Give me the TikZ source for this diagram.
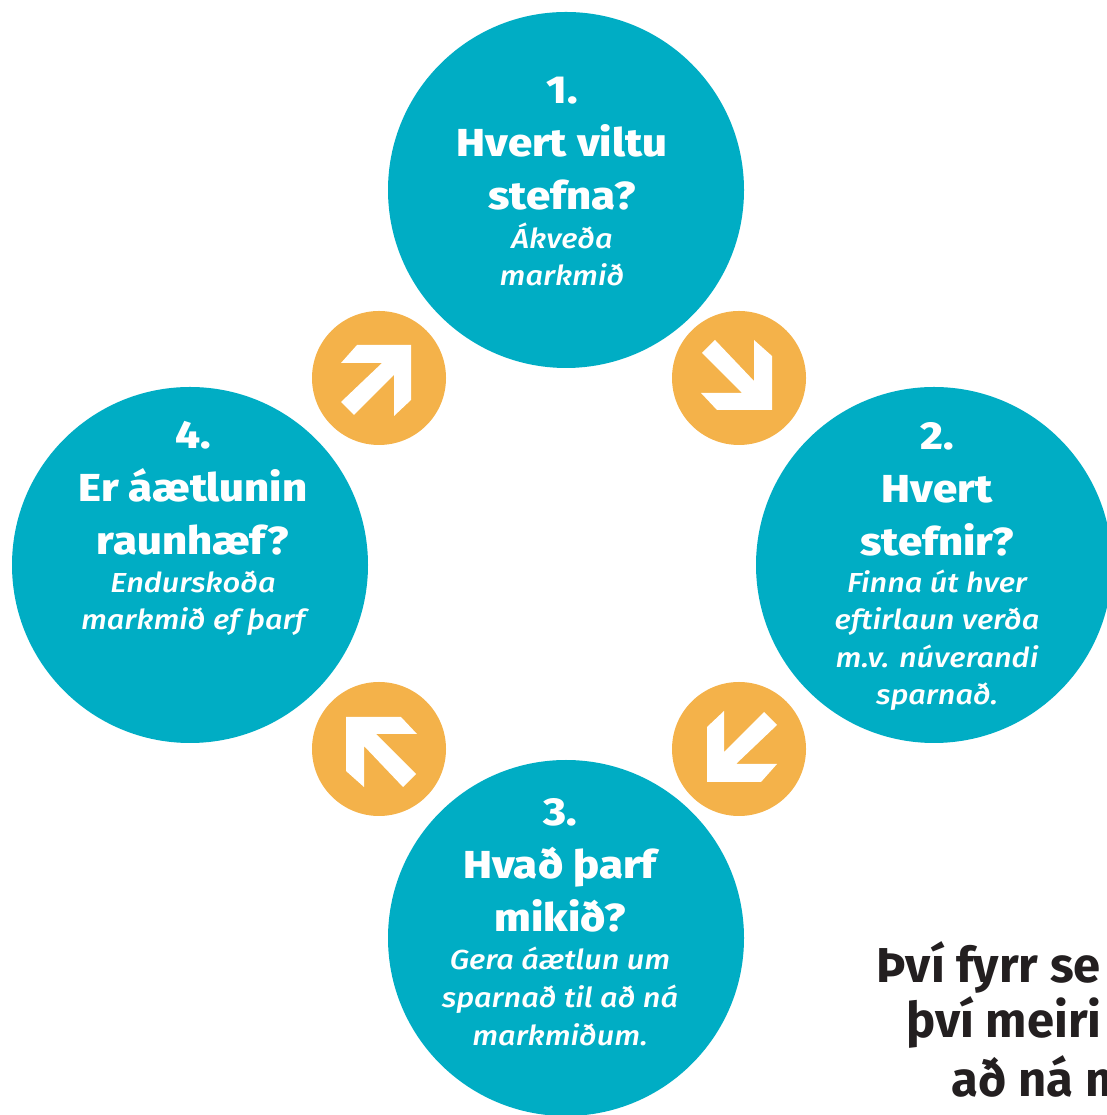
\documentclass[tikz,border=0pt]{standalone}
\usepackage{fontspec}
\setmainfont{Fira Sans}
\newfontfamily\cyclefont[FakeStretch=1.12,BoldFont={Fira Sans ExtraBold},
  ItalicFont={Fira Sans Medium Italic}]{Fira Sans}
\definecolor{stageblue}{RGB}{0,173,196}
\definecolor{turnorange}{RGB}{244,178,74}
\definecolor{slogangray}{RGB}{35,31,32}
\tikzset{
  stage/.style={circle,fill=stageblue,minimum size=356pt,inner sep=0pt},
  turn/.style={circle,fill=turnorange,minimum size=134pt,inner sep=0pt},
  title/.style={text=white,align=center,anchor=base,
    font=\cyclefont\bfseries\fontsize{39}{53}\selectfont},
  note/.style={text=white,align=center,anchor=base,
    font=\cyclefont\itshape\fontsize{27.5}{37.5}\selectfont},
  slogan/.style={text=slogangray,anchor=base west,
    font=\bfseries\fontsize{49}{57}\selectfont},
}
% white block arrow, drawn pointing up-right
\newcommand\turnarrow[2]{%
  \fill[white,shift={#1},rotate=#2] (32,33) -- (32,-22) -- (15,-38) -- (15,3)
    -- (-25,-37) -- (-38,-24) -- (3,15) -- (-38,15) -- (-22,33) -- cycle;}
\begin{document}
\begin{tikzpicture}[x=1pt,y=1pt]
  \useasboundingbox (0,0) rectangle (1106,1115);
  % the four stages (text nodes sit on their last baseline)
  \node[stage] (s1) at (566,925) {};
  \node[stage] (s2) at (934,550) {};
  \node[stage] (s3) at (566,177) {};
  \node[stage] (s4) at (190,550) {};
  \node[title] (t1) at (562,905) {1.\\Hvert viltu\\stefna?};
  \node[note] (n1) at (562,829) {Ákveða\\markmið};
  \node[title] (t2) at (937,559) {2.\\Hvert\\stefnir?};
  \node[note] (n2) at (937,410) {Finna út hver\\eftirlaun verða\\m.v. núverandi\\sparnað.};
  \node[title] (t3) at (560,183) {3.\\Hvað þarf\\mikið?};
  \node[note] (n3) at (560,70) {Gera áætlun um\\sparnað til að ná\\markmiðum.};
  \node[title] (t4) at (193,560) {4.\\Er áætlunin\\raunhæf?};
  \node[note] (n4) at (193,485) {Endurskoða\\markmið ef þarf};
  % arrows between stages
  \foreach \p/\a [count=\i] in {{(379,737)}/0,{(739,737)}/-90,{(739,366)}/180,{(379,366)}/90}{
    \node[turn] (r\i) at \p {};
    \turnarrow{(r\i.center)}{\a}
  }
  \node[slogan] (c1) at (873,132) {Því fyrr se};
  \node[slogan] (c2) at (903,77) {því meiri};
  \node[slogan] (c3) at (948,18) {að ná m};
\end{tikzpicture}
\end{document}
